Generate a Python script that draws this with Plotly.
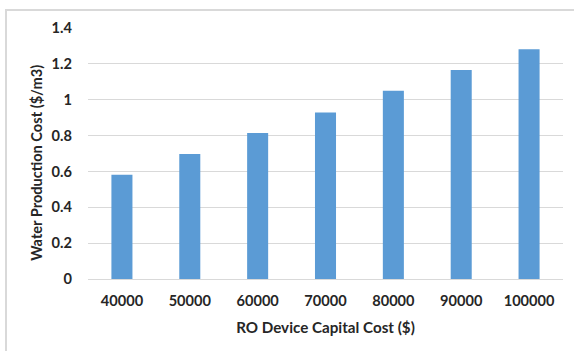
import plotly.graph_objects as go

# RO device capital cost vs. resulting water production cost
capital_cost = ["40000", "50000", "60000", "70000", "80000", "90000", "100000"]
water_cost = [0.582, 0.697, 0.814, 0.929, 1.050, 1.166, 1.281]
y_ticks = [0, 0.2, 0.4, 0.6, 0.8, 1.0, 1.2, 1.4]
y_tick_text = ["0", "0.2", "0.4", "0.6", "0.8", "1", "1.2", "1.4"]

FONT = "Lato, 'Open Sans', sans-serif"
TEXT = "#262626"

fig = go.Figure(
    go.Bar(
        x=capital_cost,
        y=water_cost,
        marker=dict(color="#5B9BD5", line=dict(width=0)),
    )
)

fig.update_layout(
    width=574,
    height=351,
    margin=dict(l=88, r=11, t=28, b=72),
    paper_bgcolor="white",
    plot_bgcolor="white",
    bargap=0.69,
    showlegend=False,
    font=dict(family=FONT, color=TEXT),
    xaxis=dict(
        type="category",
        showgrid=False,
        showline=True,
        linecolor="#D9D9D9",
        linewidth=1,
        ticks="",
        ticklabelstandoff=8,
        tickfont=dict(family=FONT, size=14.6, color=TEXT, weight="bold"),
        title=dict(
            text="<b>RO Device Capital Cost ($)</b>",
            font=dict(family=FONT, size=15.2, color=TEXT),
            standoff=14,
        ),
    ),
    yaxis=dict(
        range=[0, 1.4],
        tickvals=y_ticks,
        ticktext=y_tick_text,
        showgrid=True,
        gridcolor="#D9D9D9",
        gridwidth=1,
        zeroline=False,
        ticks="",
        ticklabelstandoff=15,
        tickfont=dict(family=FONT, size=14.6, color=TEXT, weight="bold"),
        title=dict(
            text="<b>Water Production Cost ($/m3)</b>&nbsp;&nbsp;&nbsp;&nbsp;&nbsp;",
            font=dict(family=FONT, size=14.6, color=TEXT),
            standoff=5,
        ),
    ),
)

# Chart-area frame (top and left edges)
fig.add_shape(type="line", xref="paper", yref="paper",
              x0=-83 / 475, x1=1.03, y0=1 + 18 / 251, y1=1 + 18 / 251,
              line=dict(color="#D9D9D9", width=2))
fig.add_shape(type="line", xref="paper", yref="paper",
              x0=-82 / 475, x1=-82 / 475, y0=1 + 18 / 251, y1=-0.3,
              line=dict(color="#D9D9D9", width=2))

fig.write_html("out.html")
